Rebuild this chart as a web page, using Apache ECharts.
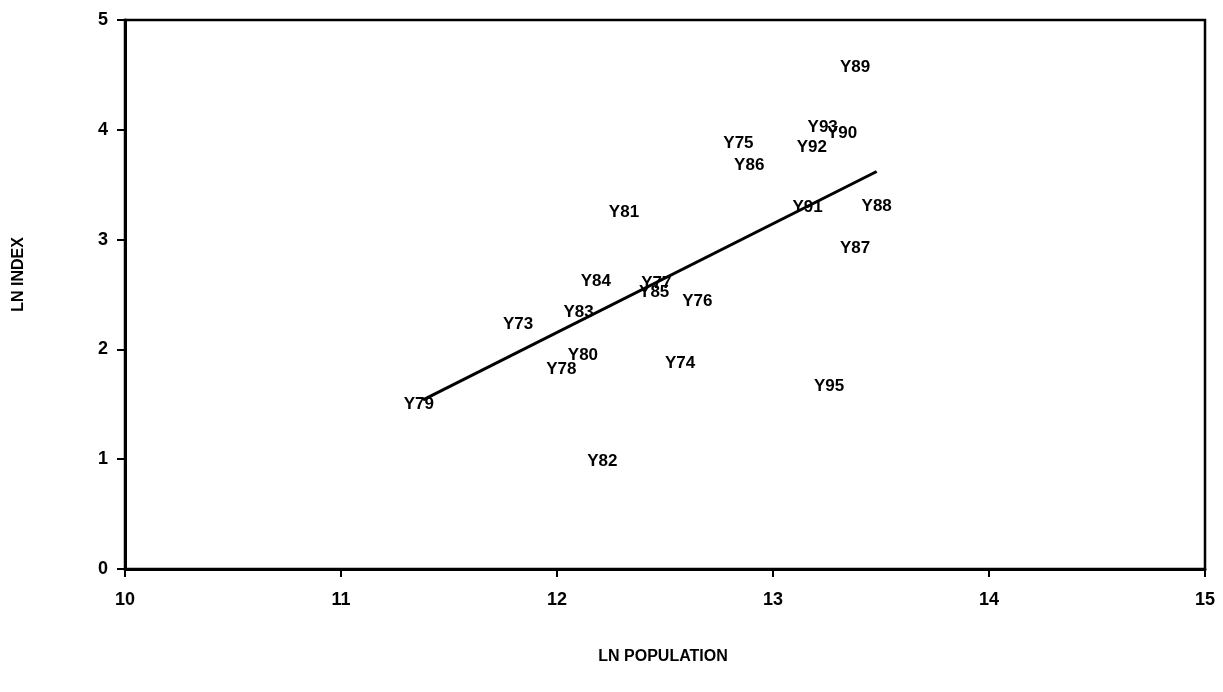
<!DOCTYPE html>
<html><head><meta charset="utf-8">
<script src="https://cdn.jsdelivr.net/npm/echarts@6/dist/echarts.min.js"></script>
<style>html,body{margin:0;padding:0;background:#fff}#c{width:1223px;height:692px}</style>
</head><body><div id="c"></div>
<script>
const years = ["Y89","Y93","Y90","Y92","Y75","Y86","Y81","Y91","Y88","Y87","Y84","Y77","Y85","Y76","Y83","Y73","Y80","Y78","Y74","Y95","Y79","Y82"];
const lnPopulation = [13.38,13.23,13.32,13.18,12.84,12.89,12.31,13.16,13.48,13.38,12.18,12.46,12.45,12.65,12.10,11.82,12.12,12.02,12.57,13.26,11.36,12.21];
const lnIndex = [4.57,4.02,3.97,3.84,3.88,3.68,3.25,3.29,3.30,2.92,2.62,2.60,2.52,2.44,2.34,2.23,1.95,1.82,1.87,1.66,1.50,0.98];
const trendX = [11.38, 13.48];
const trendY = [1.54, 3.62];
const xTicks = [10,11,12,13,14,15];
const yTicks = [0,1,2,3,4,5];

const chart = echarts.init(document.getElementById('c'));
const font = '"Liberation Sans", Arial, sans-serif';
chart.setOption({
  animation:false,
  backgroundColor:'#fff',
  grid:{left:125,right:18,top:20,bottom:123,show:true,borderColor:'#000',borderWidth:2.5,backgroundColor:'transparent'},
  xAxis:{type:'value',min:xTicks[0],max:xTicks[xTicks.length-1],interval:1,
    name:'LN POPULATION',nameLocation:'middle',nameGap:80,
    nameTextStyle:{fontFamily:font,fontWeight:'bold',fontSize:16,color:'#000',padding:[0,4,0,0]},
    axisLine:{lineStyle:{color:'#000',width:3}},
    axisTick:{show:true,inside:false,length:8,lineStyle:{color:'#000',width:2}},
    axisLabel:{margin:22,fontFamily:font,fontWeight:'bold',fontSize:18,color:'#000'},
    splitLine:{show:false}},
  yAxis:{type:'value',min:yTicks[0],max:yTicks[yTicks.length-1],interval:1,
    name:'LN INDEX',nameLocation:'middle',nameGap:98,nameRotate:90,
    nameTextStyle:{fontFamily:font,fontWeight:'bold',fontSize:16,color:'#000',padding:[0,0,0,40]},
    axisLine:{lineStyle:{color:'#000',width:3}},
    axisTick:{show:true,inside:false,length:8,lineStyle:{color:'#000',width:2}},
    axisLabel:{margin:17,fontFamily:font,fontWeight:'bold',fontSize:18,color:'#000'},
    splitLine:{show:false}},
  series:[
    {type:'line',data:trendX.map((x,i)=>[x,trendY[i]]),symbol:'none',
     lineStyle:{color:'#000',width:3},z:3},
    {type:'scatter',symbolSize:1,itemStyle:{color:'rgba(0,0,0,0)',opacity:1},
     data:years.map((n,i)=>({name:n,value:[lnPopulation[i],lnIndex[i]]})),
     label:{show:true,position:'inside',formatter:p=>p.name,opacity:1,
       fontFamily:font,fontWeight:'bold',fontSize:17,color:'#000',
       textBorderWidth:0,textBorderColor:'transparent'},z:4}
  ]
});
</script></body></html>
